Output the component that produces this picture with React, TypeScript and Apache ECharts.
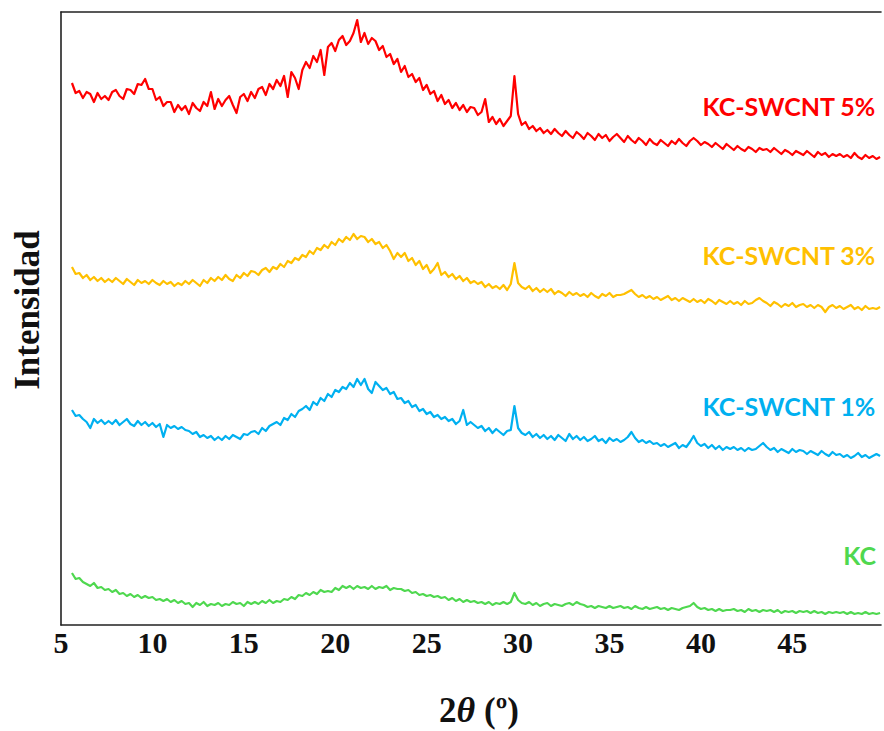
import { useEffect, useRef } from "react";
import * as echarts from "echarts";

// 2θ sampling of the diffractograms (degrees)
const TWO_THETA_START = 5.6;
const TWO_THETA_STEP = 0.2;

// Intensity (a.u., offset stacked) for each sample
const kcSwcnt5: number[] = [
  542, 532, 534, 527, 533, 531, 523, 532, 526, 529,
  525, 533, 535, 529, 526, 536, 535, 531, 541, 540,
  546, 536, 536, 525, 528, 519, 523, 523, 513, 520,
  515, 519, 511, 522, 517, 514, 523, 519, 533, 516,
  526, 519, 525, 529, 520, 512, 528, 531, 524, 533,
  527, 536, 538, 530, 541, 536, 545, 539, 549, 528,
  553, 547, 536, 555, 563, 557, 569, 563, 575, 550,
  578, 582, 574, 585, 589, 580, 584, 592, 605, 583,
  592, 581, 587, 584, 575, 579, 568, 571, 561, 566,
  553, 559, 548, 551, 543, 547, 535, 540, 531, 534,
  524, 530, 521, 525, 517, 522, 515, 520, 513, 518,
  517, 510, 513, 526, 503, 508, 501, 506, 499, 504,
  509, 549, 511, 500, 503, 496, 499, 494, 497, 492,
  495, 491, 496, 492, 489, 494, 490, 487, 493, 490,
  486, 492, 489, 485, 491, 487, 490, 484, 488, 491,
  487, 483, 489, 485, 482, 487, 484, 480, 486, 482,
  480, 485, 482, 479, 484, 481, 486, 482, 479, 484,
  487, 484, 480, 483, 481, 478, 482, 479, 476, 481,
  478, 475, 479, 476, 474, 478, 476, 473, 477, 475,
  476, 473, 477, 474, 471, 475, 473, 470, 474, 472,
  470, 474, 471, 468, 473, 470, 472, 468, 471, 469,
  471, 468, 470, 467, 472, 468, 466, 470, 467, 469,
  466, 468,
];

const kcSwcnt3: number[] = [
  358, 351, 352, 347, 350, 345, 348, 344, 347, 343,
  346, 343, 347, 344, 341, 346, 343, 340, 345, 342,
  344, 341, 345, 342, 340, 344, 341, 343, 339, 342,
  340, 344, 341, 345, 342, 339, 345, 342, 347, 344,
  348, 345, 350, 346, 344, 350, 347, 352, 349, 354,
  353, 350, 355, 357, 353, 358, 356, 361, 358, 364,
  362, 367, 365, 370, 368, 374, 371, 377, 375, 380,
  377, 383, 380, 386, 383, 388, 385, 391, 386, 389,
  388, 383, 386, 381, 383, 377, 380, 374, 366, 372,
  368, 372, 364, 367, 360, 364, 356, 360, 352, 356,
  362, 350, 353, 348, 351, 346, 349, 344, 347, 342,
  344, 341, 343, 338, 341, 337, 339, 336, 340, 335,
  341, 362, 342, 338, 336, 339, 334, 337, 333, 336,
  333, 336, 331, 334, 332, 329, 333, 330, 332, 329,
  331, 328, 332, 329, 327, 331, 329, 332, 328, 330,
  330, 331, 333, 335, 331, 328, 330, 327, 329, 326,
  328, 325, 327, 329, 325, 327, 324, 327, 325, 323,
  326, 323, 325, 322, 326, 324, 321, 325, 323, 321,
  324, 321, 323, 320, 324, 321, 322, 325, 327, 324,
  322, 319, 323, 321, 318, 321, 319, 322, 318, 320,
  321, 318, 320, 317, 320, 318, 313, 318, 320, 317,
  319, 316, 318, 320, 316, 318, 315, 319, 316, 317,
  316, 318,
];

const kcSwcnt1: number[] = [
  215, 209, 210, 206, 203, 197, 206, 202, 205, 201,
  204, 201, 205, 200, 203, 206, 201, 199, 204, 200,
  203, 199, 202, 198, 201, 188, 200, 197, 199, 196,
  198, 195, 194, 191, 193, 188, 190, 187, 189, 185,
  188, 185, 189, 186, 190, 188, 186, 191, 190, 193,
  194, 191, 197, 194, 199, 201, 203, 200, 207, 205,
  211, 208, 214, 216, 219, 215, 223, 220, 227, 224,
  231, 228, 235, 233, 238, 236, 242, 238, 246, 240,
  246, 236, 232, 243, 239, 235, 237, 231, 233, 226,
  227, 222, 224, 218, 220, 214, 216, 211, 213, 208,
  210, 206, 208, 204, 206, 201, 204, 215, 200, 203,
  200, 197, 199, 194, 197, 192, 196, 193, 190, 194,
  195, 219, 197, 192, 190, 193, 188, 191, 187, 190,
  186, 189, 185, 190, 187, 184, 191, 186, 189, 185,
  188, 184, 186, 189, 184, 186, 182, 187, 184, 186,
  183, 185, 188, 193, 187, 183, 185, 182, 184, 181,
  182, 179, 181, 178, 180, 182, 177, 180, 178, 183,
  189, 182, 179, 181, 177, 180, 176, 179, 175, 178,
  176, 178, 175, 177, 174, 177, 175, 176, 179, 182,
  178, 175, 177, 173, 176, 174, 172, 176, 173, 175,
  174, 171, 174, 172, 170, 174, 171, 169, 173, 170,
  171, 168, 170, 167, 169, 172, 168, 170, 167, 169,
  171, 169,
];

const kc: number[] = [
  52, 46, 47, 43, 41, 39, 42, 37, 38, 35,
  36, 33, 35, 31, 32, 29, 31, 28, 30, 27,
  29, 27, 28, 25, 26, 24, 26, 23, 25, 22,
  24, 21, 22, 18, 22, 20, 23, 19, 21, 20,
  22, 19, 21, 20, 23, 21, 22, 19, 23, 21,
  23, 21, 24, 22, 25, 22, 24, 23, 26, 25,
  28, 26, 30, 29, 32, 30, 33, 31, 35, 33,
  34, 33, 37, 35, 39, 37, 39, 36, 39, 37,
  38, 36, 39, 36, 38, 37, 39, 35, 37, 36,
  36, 34, 35, 32, 33, 30, 31, 29, 30, 28,
  29, 27, 28, 25, 27, 24, 26, 23, 25, 23,
  24, 22, 23, 21, 23, 20, 22, 21, 23, 21,
  23, 32, 25, 22, 21, 23, 20, 22, 19, 21,
  22, 19, 21, 20, 19, 21, 22, 20, 23, 21,
  20, 18, 19, 17, 19, 18, 17, 19, 17, 18,
  19, 17, 18, 16, 19, 17, 16, 18, 16, 17,
  18, 16, 17, 15, 17, 16, 15, 17, 18, 19,
  22, 18, 16, 17, 15, 16, 14, 16, 14, 15,
  15, 16, 14, 15, 13, 16, 14, 15, 13, 15,
  14, 15, 13, 15, 12, 14, 13, 14, 12, 14,
  13, 14, 12, 14, 12, 13, 11, 13, 12, 13,
  12, 13, 11, 13, 11, 12, 11, 13, 11, 12,
  11, 12,
];

const sampleNames = ["KC-SWCNT 5%", "KC-SWCNT 3%", "KC-SWCNT 1%", "KC"];
const sampleColors = ["#FF0000", "#FFC000", "#00B0F0", "#4FD84F"];
const sampleValues = [kcSwcnt5, kcSwcnt3, kcSwcnt1, kc];

const xTicks = [5, 10, 15, 20, 25, 30, 35, 40, 45];
const X_MIN = 5;
const X_MAX = 49.85;
const Y_MAX = 613;

const serif = "'Times New Roman', 'Liberation Serif', serif";
const sans = "Lato, 'Open Sans', sans-serif";

export default function App() {
  const ref = useRef<HTMLDivElement>(null);

  useEffect(() => {
    if (!ref.current) return;
    const chart = echarts.init(ref.current, undefined, { renderer: "svg" });

    const toPairs = (vals: number[]) =>
      vals.map((v, i) => [
        Number((TWO_THETA_START + i * TWO_THETA_STEP).toFixed(1)),
        v,
      ]);

    const labelY = [108, 257, 408, 557];

    chart.setOption({
      animation: false,
      backgroundColor: "#ffffff",
      grid: { left: 61, right: 0, top: 12, bottom: 106, containLabel: false },
      xAxis: [
        {
          type: "value",
          min: X_MIN,
          max: X_MAX,
          interval: 5,
          axisLine: { show: true, lineStyle: { color: "#222", width: 1.6 } },
          axisTick: { show: false },
          splitLine: { show: false },
          axisLabel: {
            show: true,
            margin: 2,
            fontFamily: serif,
            fontWeight: "bold",
            fontSize: 30,
            color: "#111",
            formatter: (v: number) => (xTicks.includes(v) ? String(v) : ""),
          },
        },
        {
          type: "value",
          position: "top",
          min: X_MIN,
          max: X_MAX,
          axisLine: { show: true, lineStyle: { color: "#222", width: 1.6 } },
          axisTick: { show: false },
          axisLabel: { show: false },
          splitLine: { show: false },
        },
      ],
      yAxis: {
        type: "value",
        min: 0,
        max: Y_MAX,
        axisLine: { show: true, lineStyle: { color: "#222", width: 1.6 } },
        axisTick: { show: false },
        axisLabel: { show: false },
        splitLine: { show: false },
      },
      series: sampleValues.map((vals, k) => ({
        name: sampleNames[k],
        type: "line",
        xAxisIndex: 0,
        data: toPairs(vals),
        showSymbol: false,
        symbol: "none",
        lineStyle: { color: sampleColors[k], width: 2.2, join: "round" },
        silent: true,
      })),
      graphic: [
        ...sampleNames.map((name, k) => ({
          type: "text",
          right: 8,
          top: labelY[k] - 15,
          style: {
            text: name,
            fill: sampleColors[k],
            fontFamily: sans,
            fontWeight: "bold",
            fontSize: 25,
          },
        })),
        {
          type: "text",
          x: 27,
          y: 310,
          rotation: Math.PI / 2,
          style: {
            text: "Intensidad",
            align: "center",
            verticalAlign: "middle",
            fill: "#111",
            fontFamily: serif,
            fontWeight: "bold",
            fontSize: 35,
          },
        },
        {
          type: "text",
          x: 479,
          y: 710,
          style: {
            text: "{a|2}{b|θ}{c| (º)}",
            align: "center",
            verticalAlign: "middle",
            fill: "#111",
            rich: {
              a: { fontFamily: serif, fontWeight: "bold", fontSize: 35, fill: "#111" },
              b: {
                fontFamily: serif,
                fontWeight: "bold",
                fontStyle: "italic",
                fontSize: 36,
                fill: "#111",
              },
              c: { fontFamily: serif, fontWeight: "bold", fontSize: 35, fill: "#111" },
            },
          },
        },
      ],
    });

    return () => chart.dispose();
  }, []);

  return (
    <div
      ref={ref}
      style={{ position: "fixed", left: 0, top: 0, width: 884, height: 731, background: "#fff" }}
    />
  );
}
